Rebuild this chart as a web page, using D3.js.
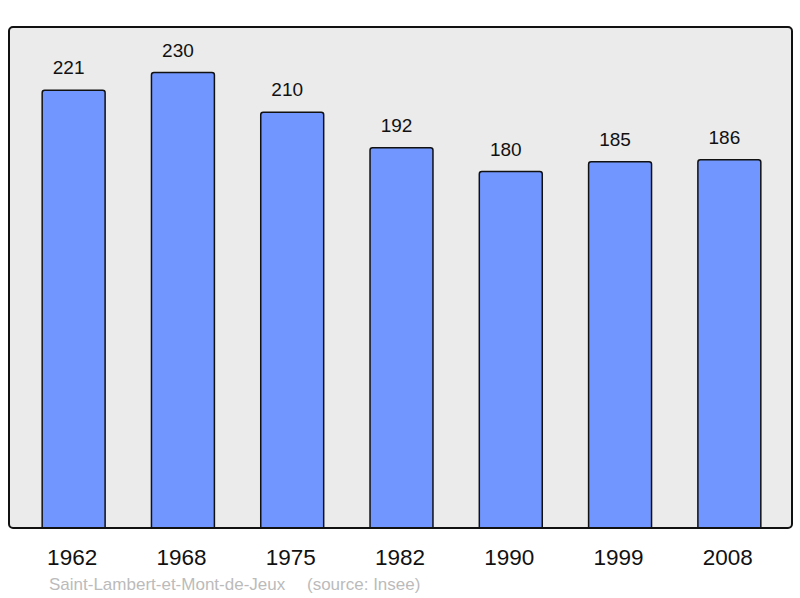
<!DOCTYPE html>
<html><head><meta charset="utf-8">
<script src="https://cdn.jsdelivr.net/npm/d3@7"></script>
<style>body{margin:0;background:#fff}svg{display:block}text{font-family:"Liberation Sans",Arial,sans-serif}</style>
</head><body>
<svg id="c" width="800" height="598"></svg>
<script>
const years = ["1962","1968","1975","1982","1990","1999","2008"];
const population = [221,230,210,192,180,185,186];
const placeName = "Saint-Lambert-et-Mont-de-Jeux";
const sourceText = "(source: Insee)";

const svg = d3.select("#c");
const frame = {x0: 9, y0: 27, x1: 792, y1: 528};

svg.append("defs").append("clipPath").attr("id", "plotclip")
  .append("rect").attr("x", frame.x0).attr("y", frame.y0)
  .attr("width", frame.x1 - frame.x0).attr("height", frame.y1 - frame.y0);

svg.append("rect")
  .attr("x", frame.x0).attr("y", frame.y0)
  .attr("width", frame.x1 - frame.x0).attr("height", frame.y1 - frame.y0)
  .attr("rx", 4).attr("ry", 4)
  .attr("fill", "#ebebeb");

const x = d3.scaleBand().domain(years).range([19, 784]).paddingInner(0.424).paddingOuter(0.212);
const y = d3.scaleLinear().domain([0, 253]).range([frame.y1, frame.y0]);

const g = svg.append("g");
g.append("g").attr("clip-path", "url(#plotclip)")
  .selectAll("rect.bar").data(population).join("rect")
  .attr("class", "bar")
  .attr("x", (d, i) => x(years[i]))
  .attr("y", d => y(d))
  .attr("width", x.bandwidth())
  .attr("height", d => y(0) - y(d) + 6)
  .attr("rx", 2.5).attr("ry", 2.5)
  .attr("fill", "#7196ff").attr("stroke", "#111").attr("stroke-width", 1.5);

svg.append("rect")
  .attr("x", frame.x0).attr("y", frame.y0)
  .attr("width", frame.x1 - frame.x0).attr("height", frame.y1 - frame.y0)
  .attr("rx", 4).attr("ry", 4)
  .attr("fill", "none").attr("stroke", "#111").attr("stroke-width", 2);

g.selectAll("text.val").data(population).join("text")
  .attr("class", "val")
  .attr("x", (d, i) => x(years[i]) + x.bandwidth() / 2 - 5)
  .attr("y", d => y(d) - 16)
  .attr("text-anchor", "middle")
  .attr("font-size", 19).attr("fill", "#111")
  .text(d => d);

const xAxis = d3.axisBottom(x).tickSize(0).tickPadding(0);
const ax = svg.append("g").attr("transform", `translate(0,${frame.y1})`).call(xAxis);
ax.select(".domain").remove();
ax.selectAll("text")
  .attr("y", 37).attr("dy", 0).attr("dx", -1.5)
  .attr("font-size", 22.5).attr("fill", "#111")
  .style("font-family", '"Liberation Sans",Arial,sans-serif');

svg.append("text").attr("x", 49).attr("y", 590)
  .attr("font-size", 17).attr("fill", "#bbbbbb")
  .text(placeName);
svg.append("text").attr("x", 307).attr("y", 590)
  .attr("font-size", 17).attr("fill", "#bbbbbb")
  .text(sourceText);
</script>
</body></html>
